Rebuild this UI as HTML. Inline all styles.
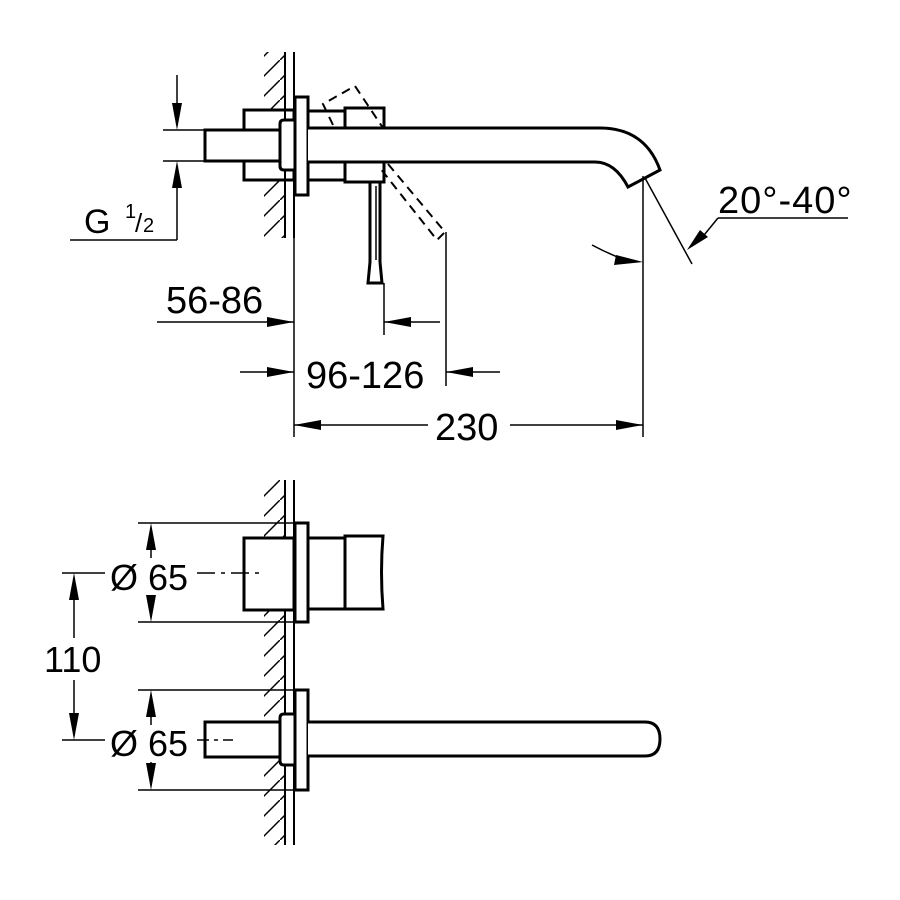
<!DOCTYPE html>
<html><head><style>html,body{margin:0;padding:0;background:#fff}svg{display:block}text{font-family:"Liberation Sans",sans-serif;fill:#000}</style></head>
<body>
<svg width="900" height="900" viewBox="0 0 900 900" xmlns="http://www.w3.org/2000/svg">
<defs>
<pattern id="h" width="20" height="20" patternUnits="userSpaceOnUse">
<path d="M-2 22 L22 -2" stroke="#000" stroke-width="1.5"/>
</pattern>
</defs>
<g fill="none" stroke="#000">
<rect x="264" y="52" width="21" height="58" fill="url(#h)" stroke="none"/>
<rect x="264" y="180" width="21" height="58" fill="url(#h)" stroke="none"/>
<line x1="285" y1="52" x2="285" y2="238" stroke-width="2"/>
<line x1="294" y1="52" x2="294" y2="238" stroke-width="2"/>
<rect x="244" y="110" width="50" height="70" stroke-width="3" fill="none"/>
<rect x="205" y="130" width="75" height="31" stroke-width="3" fill="#fff"/>
<path d="M294 120 H284 Q280 120 280 124 V166 Q280 170 284 170 H294" stroke-width="3" fill="#fff"/>
<rect x="295" y="97" width="13" height="98" stroke-width="3" fill="#fff"/>
<rect x="308" y="111" width="37" height="69" stroke-width="3"/>
<rect x="345" y="108" width="39" height="74" stroke-width="3" fill="#fff"/>
<path d="M308 128 H600 Q645 128 660 170 L628 187 Q615 162 595 162 H308" stroke-width="3" fill="#fff"/>
<path d="M370 182 V262 L368 283 H382 L380 262 V182" stroke-width="3"/>
<line x1="376" y1="186" x2="376" y2="260" stroke-width="1.5"/>
<g stroke-width="2" stroke-dasharray="9 6">
<path d="M333 125 L323 104 L355 86 L383 128"/>
<path d="M388 164 L445 232 L437 240 L380 168"/>
</g>
<g stroke-width="1.5">
<line x1="294" y1="195" x2="294" y2="437"/>
<line x1="384" y1="283" x2="384" y2="335"/>
<line x1="446" y1="232" x2="446" y2="386"/>
<line x1="643" y1="176" x2="643" y2="437"/>
<line x1="645" y1="178" x2="692" y2="264"/>
<polyline points="718,218 848,218"/>
<polyline points="718,218 700,240"/>
<path d="M592 245 Q605 252 620 258"/>
<line x1="163" y1="130" x2="205" y2="130"/>
<line x1="163" y1="161" x2="205" y2="161"/>
<line x1="177" y1="75" x2="177" y2="110"/>
<line x1="177" y1="180" x2="177" y2="240"/>
<line x1="70" y1="240" x2="177" y2="240"/>
<line x1="157" y1="322" x2="294" y2="322"/>
<line x1="384" y1="322" x2="440" y2="322"/>
<line x1="240" y1="372" x2="294" y2="372"/>
<line x1="446" y1="372" x2="500" y2="372"/>
<line x1="294" y1="425" x2="428" y2="425"/>
<line x1="510" y1="425" x2="643" y2="425"/>
</g>
</g>
<g fill="#000">
<path d="M177 130 L172 103 L182 103Z"/>
<path d="M177 161 L172 188 L182 188Z"/>
<path d="M294 322 L267 317 L267 327Z"/>
<path d="M384 322 L411 317 L411 327Z"/>
<path d="M294 372 L267 367 L267 377Z"/>
<path d="M446 372 L473 367 L473 377Z"/>
<path d="M294 425 L321 420 L321 430Z"/>
<path d="M643 425 L616 420 L616 430Z"/>
<path d="M643 262 L616 255 L614 265Z"/>
<path d="M687 250 L700 230 L708 237Z"/>
</g>
<g font-size="38">
<text x="84" y="233" font-size="34">G</text>
<text x="125" y="218" font-size="20">1</text>
<text x="135" y="232" font-size="26">/</text>
<text x="143" y="232" font-size="20">2</text>
<text x="718" y="213" letter-spacing="1">20°-40°</text>
<text x="166" y="313">56-86</text>
<text x="306" y="388">96-126</text>
<text x="435" y="440">230</text>
</g>

<g fill="none" stroke="#000">
<rect x="264" y="480" width="21" height="365" fill="url(#h)" stroke="none"/>
<line x1="285" y1="480" x2="285" y2="845" stroke-width="2"/>
<line x1="294" y1="480" x2="294" y2="845" stroke-width="2"/>
<rect x="244" y="538" width="50" height="72" stroke-width="3" fill="#fff"/>
<rect x="295" y="523" width="13" height="99" stroke-width="3" fill="#fff"/>
<rect x="308" y="538" width="37" height="71" stroke-width="3" fill="#fff"/>
<path d="M345 536 H383 Q380 572 383 609 H345Z" stroke-width="3" fill="#fff"/>
<rect x="205" y="722" width="75" height="35" stroke-width="3" fill="#fff"/>
<path d="M294 714 H284 Q280 714 280 718 V761 Q280 765 284 765 H294" stroke-width="3" fill="#fff"/>
<rect x="295" y="690" width="13" height="100" stroke-width="3" fill="#fff"/>
<path d="M308 722 H645 Q660 722 660 739 Q660 756 645 756 H308" stroke-width="3" fill="#fff"/>
<g stroke-width="1.5">
<line x1="138" y1="523" x2="295" y2="523"/>
<line x1="138" y1="622" x2="295" y2="622"/>
<line x1="151" y1="545" x2="151" y2="558"/>
<line x1="151" y1="597" x2="151" y2="610"/>
<line x1="138" y1="690" x2="295" y2="690"/>
<line x1="138" y1="790" x2="295" y2="790"/>
<line x1="151" y1="712" x2="151" y2="725"/>
<line x1="151" y1="762" x2="151" y2="778"/>
<line x1="62" y1="573" x2="105" y2="573"/>
<line x1="62" y1="740" x2="105" y2="740"/>
<line x1="74" y1="600" x2="74" y2="638"/>
<line x1="74" y1="680" x2="74" y2="715"/>
<line x1="197" y1="573" x2="260" y2="573" stroke-dasharray="18 6 4 6"/>
<line x1="197" y1="740" x2="233" y2="740" stroke-dasharray="12 5 4 5"/>
</g>
</g>
<g fill="#000">
<path d="M151 523 L146 550 L156 550Z"/>
<path d="M151 622 L146 595 L156 595Z"/>
<path d="M151 690 L146 717 L156 717Z"/>
<path d="M151 790 L146 763 L156 763Z"/>
<path d="M74 573 L69 600 L79 600Z"/>
<path d="M74 740 L69 713 L79 713Z"/>
</g>
<g font-size="36">
<text x="110" y="590">Ø 65</text>
<text x="44" y="672">110</text>
<text x="110" y="756">Ø 65</text>
</g>
</svg>
</body></html>
